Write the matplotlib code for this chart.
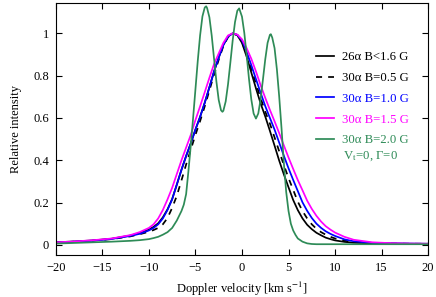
import matplotlib
matplotlib.use("Agg")
import matplotlib.pyplot as plt
from matplotlib.ticker import FuncFormatter, MultipleLocator

plt.rcParams['font.family'] = ['Liberation Serif', 'DejaVu Serif']
plt.rcParams['mathtext.fontset'] = 'stix'
plt.rcParams['font.size'] = 9

# ---- data ----
x_main = [-20, -18, -16, -14, -12, -11, -10, -9.5, -9, -8.5, -8, -7.5, -7, -6.5, -6, -5.5,
          -5, -4.5, -4, -3.5, -3, -2.5, -2, -1.5, -1, -0.5, 0, 0.5, 1, 1.5, 2, 2.5, 3, 3.5,
          4, 4.5, 5, 5.5, 6, 6.5, 7, 7.5, 8, 8.5, 9, 9.5, 10, 11, 12, 14, 16, 18, 20]

y_26a = [0.012, 0.016, 0.021, 0.029, 0.044, 0.055, 0.072, 0.085, 0.102, 0.13, 0.168, 0.217,
         0.285, 0.355, 0.42, 0.48, 0.545, 0.605, 0.672, 0.745, 0.82, 0.885, 0.945, 0.985,
         1.0, 0.991, 0.955, 0.89, 0.815, 0.74, 0.669, 0.607, 0.539, 0.469, 0.398, 0.333,
         0.272, 0.212, 0.164, 0.125, 0.095, 0.074, 0.057, 0.045, 0.034, 0.027, 0.021,
         0.014, 0.010, 0.007, 0.006, 0.005, 0.005]

y_30a_05 = [0.011, 0.015, 0.02, 0.027, 0.04, 0.05, 0.062, 0.07, 0.08, 0.097, 0.127, 0.175,
            0.232, 0.305, 0.38, 0.45, 0.52, 0.585, 0.655, 0.73, 0.805, 0.875, 0.94, 0.982,
            1.0, 0.992, 0.96, 0.90, 0.833, 0.763, 0.694, 0.63, 0.573, 0.508, 0.442, 0.377,
            0.316, 0.26, 0.204, 0.16, 0.125, 0.097, 0.076, 0.06, 0.048, 0.038, 0.03,
            0.02, 0.013, 0.008, 0.006, 0.005, 0.005]

y_30a_10 = [0.011, 0.015, 0.02, 0.028, 0.042, 0.052, 0.068, 0.08, 0.097, 0.125, 0.165, 0.215,
            0.285, 0.355, 0.42, 0.48, 0.545, 0.605, 0.672, 0.745, 0.82, 0.885, 0.945, 0.985,
            1.0, 0.993, 0.967, 0.913, 0.85, 0.784, 0.719, 0.656, 0.60, 0.545, 0.483, 0.421,
            0.362, 0.307, 0.254, 0.201, 0.161, 0.127, 0.10, 0.08, 0.064, 0.052, 0.042,
            0.026, 0.017, 0.009, 0.007, 0.006, 0.005]

y_30a_15 = [0.012, 0.016, 0.022, 0.03, 0.046, 0.06, 0.08, 0.097, 0.125, 0.165, 0.215, 0.27,
            0.335, 0.40, 0.46, 0.52, 0.59, 0.655, 0.722, 0.79, 0.855, 0.905, 0.955, 0.99,
            1.0, 0.994, 0.972, 0.93, 0.88, 0.82, 0.755, 0.695, 0.638, 0.584, 0.528, 0.47,
            0.413, 0.359, 0.306, 0.258, 0.209, 0.17, 0.137, 0.11, 0.088, 0.072, 0.058,
            0.038, 0.024, 0.012, 0.008, 0.006, 0.005]

x_green = [-20, -18, -16, -14, -12, -11, -10, -9.5, -9, -8.5, -8, -7.5, -7, -6.5, -6.25, -6,
           -5.75, -5.5, -5.25, -5, -4.75, -4.5, -4.25, -4, -3.85, -3.75, -3.5, -3.25, -3,
           -2.75, -2.5, -2.25, -2.1, -2, -1.75, -1.5, -1.25, -1, -0.75, -0.5, -0.3, 0,
           0.25, 0.5, 0.75, 1, 1.25, 1.5, 1.75, 2, 2.25, 2.5, 2.75, 3, 3.1, 3.25, 3.5,
           3.75, 4, 4.25, 4.5, 4.75, 5, 5.25, 5.5, 5.75, 6, 6.5, 7, 7.5, 8, 10, 12, 14,
           16, 18, 20]
y_30a_20 = [0.006, 0.009, 0.012, 0.015, 0.019, 0.022, 0.027, 0.032, 0.038, 0.048, 0.06, 0.08,
            0.115, 0.16, 0.19, 0.24, 0.35, 0.47, 0.60, 0.735, 0.87, 0.99, 1.08, 1.122,
            1.128, 1.12, 1.076, 0.989, 0.88, 0.773, 0.685, 0.636, 0.629, 0.634, 0.678,
            0.759, 0.861, 0.966, 1.053, 1.107, 1.118, 1.079, 1.002, 0.898, 0.786, 0.688,
            0.621, 0.597, 0.621, 0.688, 0.781, 0.877, 0.955, 0.993, 0.996, 0.98, 0.93,
            0.83, 0.70, 0.55, 0.385, 0.25, 0.16, 0.10, 0.068, 0.047, 0.03, 0.015, 0.007,
            0.004, 0.003, 0.003, 0.003, 0.003, 0.003, 0.003, 0.003]

labels = ['26α B<1.6 G', '30α B=0.5 G', '30α B=1.0 G', '30α B=1.5 G', '30α B=2.0 G']
extra_label = 'V$_\\mathrm{t}$=0, Γ=0'
green = '#2e8b57'

# ---- figure ----
fig = plt.figure(figsize=(4.36, 2.97), dpi=100)
ax = fig.add_axes([0.128, 0.140, 0.854, 0.851])

lw = 1.25
ax.plot(x_main, y_26a, color='black', lw=lw, label=labels[0])
ax.plot(x_main, y_30a_05, color='black', lw=lw, dashes=(3.5, 3.5), label=labels[1])
ax.plot(x_main, y_30a_10, color='blue', lw=lw, label=labels[2])
ax.plot(x_main, y_30a_15, color='magenta', lw=lw, label=labels[3])
ax.plot(x_green, y_30a_20, color=green, lw=lw, label=labels[4])

ax.set_xlim(-20, 20)
ax.set_ylim(-0.05, 1.145)
ax.xaxis.set_major_locator(MultipleLocator(5))
ax.yaxis.set_major_locator(MultipleLocator(0.2))
ax.yaxis.set_major_formatter(FuncFormatter(lambda v, p: '%g' % round(v, 2)))
ax.tick_params(direction='in', top=True, right=True, length=4, width=0.8, labelsize=9, pad=5)
for s in ax.spines.values():
    s.set_linewidth(0.8)

ax.set_xlabel('Doppler velocity [km s$^{-1}$]', fontsize=9, labelpad=4)
ax.set_ylabel('Relative intensity', fontsize=9, labelpad=8)

leg = ax.legend(loc='upper left', bbox_to_anchor=(0.699, 0.808), frameon=False,
                borderaxespad=0, borderpad=0, handlelength=1.4, handletextpad=0.6,
                labelspacing=0.69, fontsize=9.2, labelcolor='linecolor')
ax.text(0.845, 0.393, extra_label, transform=ax.transAxes, color=green, fontsize=9.2,
        ha='center', va='center')

fig.savefig('out.png', dpi=100)
